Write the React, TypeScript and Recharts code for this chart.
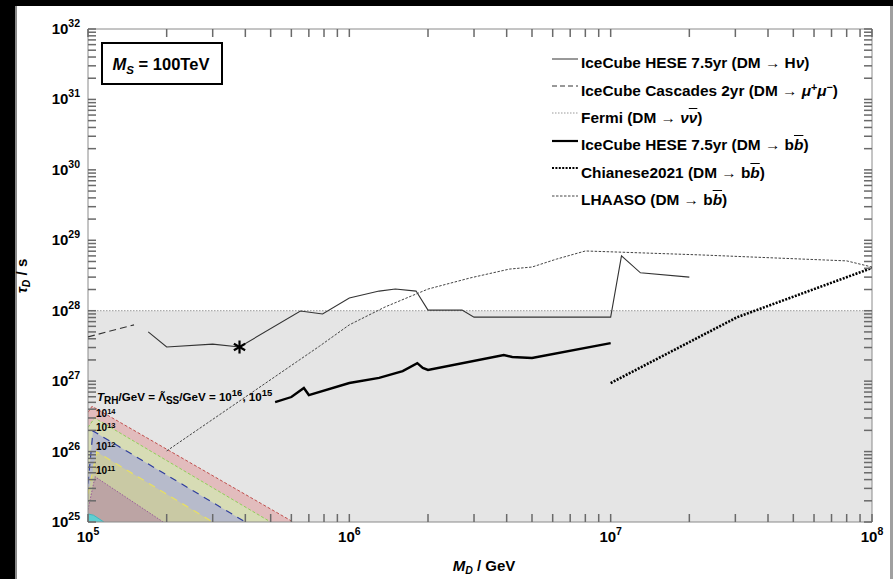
import { ComposedChart, Line, Area, Scatter, XAxis, YAxis, ReferenceArea, Legend } from "recharts"

const FONT = '"Liberation Sans", Arial, Helvetica, sans-serif'
const TICK_LEN = 8
const TICK_W = 1.5
const TICK_COLOR = "#6a6a6a"

// axis decades and minor-tick multipliers
const xDecades = [5, 6, 7, 8]
const yDecades = [25, 26, 27, 28, 29, 30, 31, 32]
const minorSteps = [2, 3, 4, 5, 6, 7, 8, 9]

// lifetime bounds, tau_D [s] vs M_D [GeV]
const heseHnu = [
  { x: 1.7e5, y: 5.0e27 },
  { x: 2.0e5, y: 3.05e27 },
  { x: 3.0e5, y: 3.35e27 },
  { x: 3.8e5, y: 3.05e27 },
  { x: 6.5e5, y: 9.9e27 },
  { x: 7.9e5, y: 9.0e27 },
  { x: 1.0e6, y: 1.52e28 },
  { x: 1.3e6, y: 1.9e28 },
  { x: 1.5e6, y: 2.03e28 },
  { x: 1.8e6, y: 1.9e28 },
  { x: 2.0e6, y: 1.02e28 },
  { x: 2.7e6, y: 1.02e28 },
  { x: 3.0e6, y: 8.1e27 },
  { x: 1.0e7, y: 8.1e27 },
  { x: 1.1e7, y: 6.0e28 },
  { x: 1.3e7, y: 3.45e28 },
  { x: 2.0e7, y: 3.0e28 },
]
const cascadesMuMu = [
  { x: 1.0e5, y: 4.25e27 },
  { x: 1.5e5, y: 6.3e27 },
]
const fermiNuNu = [
  { x: 1.0e5, y: 1.0e28 },
  { x: 1.0e8, y: 1.0e28 },
]
const heseBB = [
  { x: 5.2e5, y: 5.05e26 },
  { x: 6.0e5, y: 5.95e26 },
  { x: 6.7e5, y: 8.0e26 },
  { x: 7.0e5, y: 6.35e26 },
  { x: 1.0e6, y: 9.4e26 },
  { x: 1.3e6, y: 1.11e27 },
  { x: 1.6e6, y: 1.39e27 },
  { x: 1.82e6, y: 1.8e27 },
  { x: 1.91e6, y: 1.54e27 },
  { x: 2.0e6, y: 1.44e27 },
  { x: 3.9e6, y: 2.35e27 },
  { x: 4.2e6, y: 2.2e27 },
  { x: 5.0e6, y: 2.13e27 },
  { x: 1.0e7, y: 3.47e27 },
]
const chianeseBB = [
  { x: 1.0e7, y: 9.4e26 },
  { x: 3.05e7, y: 8.1e27 },
  { x: 1.0e8, y: 4.05e28 },
]
const lhaasoBB = [
  { x: 2.0e5, y: 1.02e26 },
  { x: 7.7e5, y: 3.15e27 },
  { x: 1.0e6, y: 6.3e27 },
  { x: 1.37e6, y: 1.13e28 },
  { x: 2.0e6, y: 2.03e28 },
  { x: 2.9e6, y: 2.92e28 },
  { x: 4.1e6, y: 3.9e28 },
  { x: 5.0e6, y: 4.17e28 },
  { x: 6.2e6, y: 5.4e28 },
  { x: 8.0e6, y: 7.05e28 },
  { x: 1.07e7, y: 6.8e28 },
  { x: 2.2e7, y: 6.2e28 },
  { x: 8.0e7, y: 5.1e28 },
  { x: 1.0e8, y: 4.17e28 },
]
const starPoint = [{ x: 3.8e5, y: 3.05e27 }]

// excluded band below the Fermi level
const grayBand = [
  { x: 1.0e5, y: 1.0e28 },
  { x: 1.0e8, y: 1.0e28 },
]

// T_RH regions, upper edges
const trh14 = [
  { x: 1.0e5, y: 3.6e26 },
  { x: 1.036e5, y: 4.4e26 },
  { x: 6.1e5, y: 1.0e25 },
]
const trh13 = [
  { x: 1.0e5, y: 2.2e26 },
  { x: 1.06e5, y: 3.0e26 },
  { x: 5.0e5, y: 1.0e25 },
]
const trh12 = [
  { x: 1.0e5, y: 3.5e25 },
  { x: 1.045e5, y: 1.96e26 },
  { x: 4.0e5, y: 1.0e25 },
]
const trh11 = [
  { x: 1.0e5, y: 2.5e25 },
  { x: 1.08e5, y: 9.9e25 },
  { x: 3.0e5, y: 1.0e25 },
]
const trh10 = [
  { x: 1.0e5, y: 1.5e25 },
  { x: 1.064e5, y: 4.4e25 },
  { x: 1.94e5, y: 1.0e25 },
]
const trh9 = [
  { x: 1.0e5, y: 1.3e25 },
  { x: 1.05e5, y: 1.25e25 },
  { x: 1.15e5, y: 1.0e25 },
]

const regionLabels = [
  { exp: "14", y: 417 },
  { exp: "13", y: 431 },
  { exp: "12", y: 450 },
  { exp: "11", y: 474 },
]

const xTicks = xDecades.flatMap((d) => [10 ** d, ...(d < 8 ? minorSteps.map((m) => m * 10 ** d) : [])])
const yTicks = yDecades.flatMap((d) => [10 ** d, ...(d < 32 ? minorSteps.map((m) => m * 10 ** d) : [])])

const isDecade = (v: number) => Math.abs(Math.log10(v) - Math.round(Math.log10(v))) < 1e-9

// bottom axis: inward marks on the bottom and top frame, decade labels below
function renderXTick(props: any) {
  const { x, payload, index } = props
  const axisY = props.y - 8
  const plotTop = 29
  const v = payload.value
  return (
    <g key={`xt-${index}`}>
      <rect x={x - TICK_W / 2} y={axisY - TICK_LEN} width={TICK_W} height={TICK_LEN} fill={TICK_COLOR} />
      <rect x={x - TICK_W / 2} y={plotTop} width={TICK_W} height={TICK_LEN} fill={TICK_COLOR} />
      {isDecade(v) && (
        <text x={x} y={axisY + 20} textAnchor="middle" fontFamily={FONT} fontWeight="bold" fontSize={15} fill="#000">
          10
          <tspan dy={-7} fontSize={10.5}>{Math.round(Math.log10(v))}</tspan>
        </text>
      )}
    </g>
  )
}

// left axis: inward marks on the left and right frame, decade labels to the left
function renderYTick(props: any) {
  const { y, payload, index } = props
  const plotLeft = 88
  const plotRight = 872
  const v = payload.value
  return (
    <g key={`yt-${index}`}>
      <rect x={plotLeft} y={y - TICK_W / 2} width={TICK_LEN} height={TICK_W} fill={TICK_COLOR} />
      <rect x={plotRight - TICK_LEN} y={y - TICK_W / 2} width={TICK_LEN} height={TICK_W} fill={TICK_COLOR} />
      {isDecade(v) && (
        <text x={80} y={y + 5} textAnchor="end" fontFamily={FONT} fontWeight="bold" fontSize={15} fill="#000">
          10
          <tspan dy={-7} fontSize={10.5}>{Math.round(Math.log10(v))}</tspan>
        </text>
      )}
    </g>
  )
}

function Asterisk({ cx, cy }: any) {
  const r = 6.5
  return (
    <g stroke="#000" strokeWidth={2.2}>
      {[0, 60, 120].map((a) => {
        const t = (a * Math.PI) / 180
        return <line key={a} x1={cx - r * Math.sin(t)} y1={cy - r * Math.cos(t)} x2={cx + r * Math.sin(t)} y2={cy + r * Math.cos(t)} />
      })}
    </g>
  )
}

const ov = { textDecoration: "overline" }
const sup = { fontSize: "0.7em", lineHeight: 0, verticalAlign: "0.5em" }
const legendItems = [
  { key: "hnu", stroke: "#333", width: 1, dash: undefined, label: <>IceCube HESE 7.5yr (DM → H<i>ν</i>)</> },
  { key: "mumu", stroke: "#333", width: 1, dash: "5 3", label: <>IceCube Cascades 2yr (DM → <i>μ</i><span style={sup}>+</span><i>μ</i><span style={sup}>−</span>)</> },
  { key: "fermi", stroke: "#999", width: 1, dash: "1.5 1.5", label: <>Fermi (DM → <i>ν</i><i style={ov}>ν</i>)</> },
  { key: "bb", stroke: "#000", width: 2.2, dash: undefined, label: <>IceCube HESE 7.5yr (DM → b<i style={ov}>b</i>)</> },
  { key: "chianese", stroke: "#000", width: 2.2, dash: "2 1.4", label: <>Chianese2021 (DM → b<i style={ov}>b</i>)</> },
  { key: "lhaaso", stroke: "#444", width: 1, dash: "2.5 1.5", label: <>LHAASO (DM → b<i style={ov}>b</i>)</> },
]

function LegendBox() {
  return (
    <div style={{ fontFamily: FONT, fontWeight: "bold", fontSize: 15.4, color: "#000" }}>
      {legendItems.map((it) => (
        <div key={it.key} style={{ display: "flex", alignItems: "center", height: 27.4, whiteSpace: "nowrap" }}>
          <svg width={26} height={12} style={{ marginRight: 3, position: "relative", top: -4 }}>
            <line x1={0} x2={26} y1={6} y2={6} stroke={it.stroke} strokeWidth={it.width} strokeDasharray={it.dash} />
          </svg>
          <span style={{ lineHeight: "17px" }}>{it.label}</span>
        </div>
      ))}
    </div>
  )
}

export default function App() {
  return (
    <div style={{ position: "fixed", left: 0, top: 0, width: 893, height: 579, background: "#000", overflow: "hidden" }}>
      <div
        style={{
          position: "absolute",
          left: 15,
          top: 6,
          width: 873,
          height: 573,
          background: "#fff",
          borderLeft: "2px solid #8a8a8a",
          borderRight: "3px solid #a0a0a0",
        }}
      />
      <div style={{ position: "absolute", left: 0, top: 0 }}>
        <ComposedChart width={893} height={579} margin={{ top: 29, right: 21, bottom: 17, left: 28 }}>
          <Area data={grayBand} dataKey="y" baseValue={1e25} type="linear" fill="#e5e5e5" fillOpacity={1} stroke="none" isAnimationActive={false} />

          <Area data={trh14} dataKey="y" baseValue={1e25} type="linear" fill="#e2bcbd" fillOpacity={1} stroke="#c0504d" strokeWidth={1} strokeDasharray="3 2" isAnimationActive={false} />
          <Area data={trh13} dataKey="y" baseValue={1e25} type="linear" fill="#d7dcb5" fillOpacity={1} stroke="#8fd05a" strokeWidth={1} strokeDasharray="3 2" isAnimationActive={false} />
          <Area data={trh12} dataKey="y" baseValue={1e25} type="linear" fill="#b7bbcb" fillOpacity={1} stroke="#2e3d9e" strokeWidth={1.2} strokeDasharray="7 6" isAnimationActive={false} />
          <Area data={trh11} dataKey="y" baseValue={1e25} type="linear" fill="#c9c9a4" fillOpacity={1} stroke="#e8e060" strokeWidth={1.2} strokeDasharray="7 6" isAnimationActive={false} />
          <Area data={trh10} dataKey="y" baseValue={1e25} type="linear" fill="#bca4a4" fillOpacity={1} stroke="#9a5a9a" strokeWidth={1} strokeDasharray="1.5 1.5" isAnimationActive={false} />
          <Area data={trh9} dataKey="y" baseValue={1e25} type="linear" fill="#5fcfd2" fillOpacity={1} stroke="#3fb8c0" strokeWidth={1} isAnimationActive={false} />

          <Line data={fermiNuNu} dataKey="y" type="linear" stroke="#999" strokeWidth={1} strokeDasharray="1.5 1.5" dot={false} isAnimationActive={false} />
          <Line data={cascadesMuMu} dataKey="y" type="linear" stroke="#333" strokeWidth={1.1} strokeDasharray="7 4" dot={false} isAnimationActive={false} />
          <Line data={heseHnu} dataKey="y" type="linear" stroke="#333" strokeWidth={1.1} dot={false} isAnimationActive={false} />
          <Line data={lhaasoBB} dataKey="y" type="linear" stroke="#444" strokeWidth={1} strokeDasharray="2.5 1.5" dot={false} isAnimationActive={false} />
          <Line data={heseBB} dataKey="y" type="linear" stroke="#000" strokeWidth={2.4} dot={false} isAnimationActive={false} />
          <Line data={chianeseBB} dataKey="y" type="linear" stroke="#000" strokeWidth={2.6} strokeDasharray="2 1.4" dot={false} isAnimationActive={false} />
          <Scatter data={starPoint} dataKey="y" shape={<Asterisk />} isAnimationActive={false} />

          <ReferenceArea x1={1e5} x2={1e8} y1={1e25} y2={1e32} fill="none" stroke="#8a8a8a" strokeWidth={1} ifOverflow="visible" />

          <XAxis
            dataKey="x"
            type="number"
            scale="log"
            domain={[1e5, 1e8]}
            allowDataOverflow
            ticks={xTicks}
            interval={0}
            height={40}
            axisLine={false}
            tickLine={false}
            tickSize={0}
            tickMargin={8}
            tick={renderXTick}
          />
          <YAxis
            dataKey="y"
            type="number"
            scale="log"
            domain={[1e25, 1e32]}
            allowDataOverflow
            ticks={yTicks}
            interval={0}
            width={60}
            axisLine={false}
            tickLine={false}
            tick={renderYTick}
          />

          <Legend
            layout="vertical"
            align="center"
            verticalAlign="middle"
            content={<LegendBox />}
            wrapperStyle={{ left: 552, top: 49, width: 335 }}
          />
        </ComposedChart>
      </div>

      <svg width={893} height={579} style={{ position: "absolute", left: 0, top: 0, pointerEvents: "none" }} fontFamily={FONT} fontWeight="bold">
        <rect x={102} y={43} width={120} height={41} fill="#fff" stroke="#000" strokeWidth={2} />
        <text x={161} y={70} textAnchor="middle" fontSize={16.5}>
          <tspan fontStyle="italic">M</tspan>
          <tspan dy={4} fontSize={11.5} fontStyle="italic">S</tspan>
          <tspan dy={-4}> = 100TeV</tspan>
        </text>

        <text x={97} y={401} fontSize={11.6}>
          <tspan fontStyle="italic">T</tspan>
          <tspan dy={3} fontSize={10}>RH</tspan>
          <tspan dy={-3}>/GeV = Λ̃</tspan>
          <tspan dy={3} fontSize={10}>SS</tspan>
          <tspan dy={-3}>/GeV = 10</tspan>
          <tspan dy={-5.5} fontSize={9.5}>16</tspan>
          <tspan dy={5.5}>, 10</tspan>
          <tspan dy={-5.5} fontSize={9.5}>15</tspan>
        </text>

        {regionLabels.map((r) => (
          <text key={r.exp} x={96} y={r.y} fontSize={10}>
            10
            <tspan dy={-3.5} fontSize={7.5}>{r.exp}</tspan>
          </text>
        ))}

        <text x={484} y={571} textAnchor="middle" fontSize={15}>
          <tspan fontStyle="italic">M</tspan>
          <tspan dy={3} fontSize={10.5} fontStyle="italic">D</tspan>
          <tspan dy={-3}> / GeV</tspan>
        </text>
        <text x={0} y={0} transform="translate(27 276) rotate(-90)" textAnchor="middle" fontSize={15}>
          <tspan fontStyle="italic">τ</tspan>
          <tspan dy={3} fontSize={10.5} fontStyle="italic">D</tspan>
          <tspan dy={-3}> / s</tspan>
        </text>
      </svg>
    </div>
  )
}
